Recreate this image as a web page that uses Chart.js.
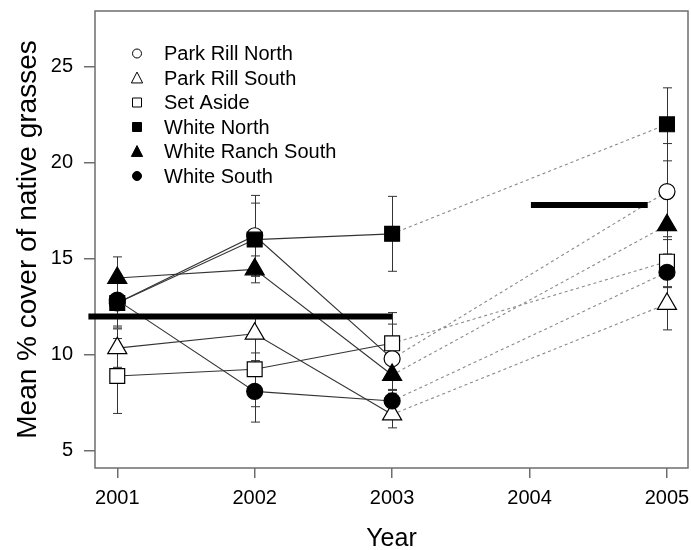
<!DOCTYPE html>
<html><head><meta charset="utf-8">
<script src="https://cdn.jsdelivr.net/npm/chart.js@4.4.0/dist/chart.umd.min.js"></script>
<style>html,body{margin:0;padding:0;background:#fff}#wrap{width:691px;height:550px}</style>
</head><body><div id="wrap"><canvas id="c" width="691" height="550"></canvas></div>
<script>
// ---- data ----
const years = [2001, 2002, 2003, 2005];
const xTicks = [2001, 2002, 2003, 2004, 2005];
const yTicks = [5, 10, 15, 20, 25];
const seriesNames = ['Park Rill North', 'Park Rill South', 'Set Aside', 'White North', 'White Ranch South', 'White South'];
const parkRillNorth   = [12.7, 16.2, 9.8, 18.5];
const parkRillNorthSE = [1.2, 2.1, 1.8, 2.5];
const parkRillSouth   = [10.35, 11.1, 6.9, 12.65];
const parkRillSouthSE = [1.0, 1.0, 0.7, 1.35];
const setAside        = [8.9, 9.25, 10.6, 14.85];
const setAsideSE      = [1.95, 1.95, 1.6, 1.3];
const whiteNorth      = [12.7, 16.0, 16.3, 22.0];
const whiteNorthSE    = [1.3, 1.9, 1.95, 1.9];
const whiteRanchSouth = [14.0, 14.45, 8.95, 16.75];
const whiteRanchSouthSE = [1.1, 0.7, 0.8, 1.5];
const whiteSouth      = [12.85, 8.1, 7.6, 14.3];
const whiteSouthSE    = [0.9, 1.6, 0.6, 0.8];
const refLine1X = [2000.79, 2003.0];
const refLine1Y = [12.0, 12.0];
const refLine2X = [2004.01, 2004.86];
const refLine2Y = [17.8, 17.8];

const seriesValues = [parkRillNorth, parkRillSouth, setAside, whiteNorth, whiteRanchSouth, whiteSouth];
const seriesSE = [parkRillNorthSE, parkRillSouthSE, setAsideSE, whiteNorthSE, whiteRanchSouthSE, whiteSouthSE];
const styles = [
  {shape: 'circle', fill: '#ffffff', r: 8},
  {shape: 'triangle', fill: '#ffffff', r: 11},
  {shape: 'rect', fill: '#ffffff', r: 10.5},
  {shape: 'rect', fill: '#000000', r: 10.5},
  {shape: 'triangle', fill: '#000000', r: 11},
  {shape: 'circle', fill: '#000000', r: 8}
];

const datasets = seriesNames.map((name, i) => ({
  label: name,
  data: years.map((yr, j) => ({x: yr, y: seriesValues[i][j]})),
  pointStyle: styles[i].shape,
  pointRadius: styles[i].r,
  pointBackgroundColor: styles[i].fill,
  pointBorderColor: '#000',
  pointBorderWidth: 1.2,
  borderColor: '#333',
  borderWidth: 1.1,
  fill: false,
  tension: 0,
  order: 10 - i,
  segment: {
    borderDash: ctx => ctx.p1.parsed.x > 2004 ? [3, 3] : undefined,
    borderColor: ctx => ctx.p1.parsed.x > 2004 ? '#8a8a8a' : '#333'
  }
}));
datasets.push({
  label: 'ref1',
  data: refLine1X.map((x, j) => ({x: x, y: refLine1Y[j]})),
  borderColor: '#000', borderWidth: 6, pointRadius: 0, clip: false, order: 0, borderCapStyle: 'butt'
});
datasets.push({
  label: 'ref2',
  data: refLine2X.map((x, j) => ({x: x, y: refLine2Y[j]})),
  borderColor: '#000', borderWidth: 6, pointRadius: 0, clip: false, order: 0, borderCapStyle: 'butt'
});

const errorBars = {
  id: 'errorBars',
  beforeDatasetsDraw(chart) {
    const {ctx, scales: {x, y}, chartArea: ca} = chart;
    ctx.save();
    ctx.strokeStyle = '#6e6e6e';
    ctx.lineWidth = 1.5;
    ctx.strokeRect(ca.left, ca.top, ca.right - ca.left, ca.bottom - ca.top);
    ctx.strokeStyle = '#333';
    ctx.lineWidth = 1;
    seriesValues.forEach((vals, i) => {
      vals.forEach((v, j) => {
        const px = Math.round(x.getPixelForValue(years[j])) + 0.5;
        const t = y.getPixelForValue(v + seriesSE[i][j]);
        const b = y.getPixelForValue(v - seriesSE[i][j]);
        ctx.beginPath();
        ctx.moveTo(px, t); ctx.lineTo(px, b);
        ctx.moveTo(px - 4.5, t); ctx.lineTo(px + 4.5, t);
        ctx.moveTo(px - 4.5, b); ctx.lineTo(px + 4.5, b);
        ctx.stroke();
      });
    });
    ctx.restore();
  }
};

function drawMarker(ctx, shape, fill, cx, cy, s) {
  ctx.beginPath();
  if (shape === 'circle') ctx.arc(cx, cy, s / 2, 0, Math.PI * 2);
  else if (shape === 'rect') ctx.rect(cx - s / 2, cy - s / 2, s, s);
  else {
    const w = s * 1.25, h = s * 1.1;
    ctx.moveTo(cx, cy - h / 2 - 1);
    ctx.lineTo(cx + w / 2, cy + h / 2);
    ctx.lineTo(cx - w / 2, cy + h / 2);
    ctx.closePath();
  }
  ctx.fillStyle = fill;
  ctx.fill();
  ctx.strokeStyle = '#000';
  ctx.lineWidth = 1;
  ctx.stroke();
}

const legendPlugin = {
  id: 'customLegend',
  afterDraw(chart) {
    const ctx = chart.ctx;
    ctx.save();
    ctx.font = '20px "Liberation Sans", Arial, sans-serif';
    ctx.textBaseline = 'middle';
    ctx.textAlign = 'left';
    seriesNames.forEach((name, i) => {
      const yy = 53.5 + i * 24.5;
      drawMarker(ctx, styles[i].shape, styles[i].fill, 137, yy, 9);
      ctx.fillStyle = '#000';
      ctx.fillText(name, 164, yy + 1);
    });
    ctx.restore();
  }
};

function noPad(s) { s.paddingLeft = 0; s.paddingRight = 0; s.paddingTop = 0; s.paddingBottom = 0; }

const tickFont = {family: '"Liberation Sans", Arial, sans-serif', size: 20};
const xTickFont = {family: '"Liberation Sans", Arial, sans-serif', size: 20, lineHeight: 2.0};
new Chart(document.getElementById('c'), {
  type: 'line',
  data: {datasets},
  options: {
    responsive: false,
    animation: false,
    devicePixelRatio: 1,
    layout: {autoPadding: false, padding: {left: 0, right: 3, top: 11, bottom: 0}},
    plugins: {legend: {display: false}, tooltip: {enabled: false}},
    scales: {
      x: {
        type: 'linear', min: 2000.838, max: 2005.153,
        afterBuildTicks: s => { s.ticks = xTicks.map(v => ({value: v})); },
        afterFit: s => { s.height = 82; noPad(s); },
        ticks: {callback: v => String(v), font: xTickFont, color: '#000', padding: 0, maxRotation: 0},
        grid: {drawOnChartArea: false, drawTicks: true, tickLength: 10, color: '#6e6e6e', lineWidth: 1.5},
        border: {display: false},
        title: {display: true, text: 'Year', font: {family: '"Liberation Sans", Arial, sans-serif', size: 25, lineHeight: 0.9}, color: '#000', padding: {top: 0, bottom: 0}}
      },
      y: {
        type: 'linear', min: 4.11, max: 27.9,
        afterBuildTicks: s => { s.ticks = yTicks.map(v => ({value: v})); },
        afterFit: s => { s.width = 95; noPad(s); },
        ticks: {callback: v => String(v), font: tickFont, color: '#000', padding: 11},
        grid: {drawOnChartArea: false, drawTicks: true, tickLength: 11, color: '#6e6e6e', lineWidth: 1.5},
        border: {display: false},
        title: {display: true, text: 'Mean % cover of native grasses', font: {family: '"Liberation Sans", Arial, sans-serif', size: 28, lineHeight: 1}, color: '#000', padding: {top: 14, bottom: 0}}
      }
    }
  },
  plugins: [errorBars, legendPlugin]
});
</script></body></html>
